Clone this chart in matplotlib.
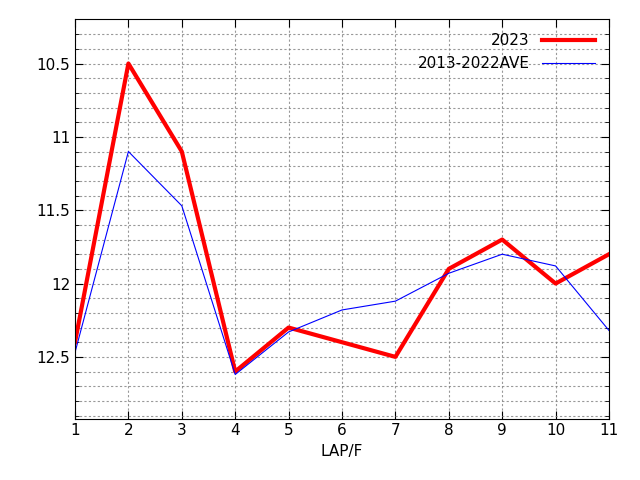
import matplotlib
matplotlib.use("Agg")
import matplotlib.pyplot as plt
import numpy as np

laps = list(range(1, 12))
y2023 = [12.4, 10.5, 11.1, 12.6, 12.3, 12.4, 12.5, 11.9, 11.7, 12.0, 11.8]
yave = [12.47, 11.1, 11.47, 12.62, 12.33, 12.18, 12.12, 11.93, 11.80, 11.88, 12.32]

fig = plt.figure(figsize=(6.4, 4.8), dpi=100)
ax = fig.add_axes([75/640, 1-418.5/480, (609-75)/640, (418.5-19.5)/480])
ax.plot(laps, y2023, color="red", lw=3, label="2023")
ax.plot(laps, yave, color="blue", lw=0.8, label="2013-2022AVE")
ax.set_xlim(1, 11)
ax.set_ylim(12.92, 10.2)
ax.set_xticks(laps)
ax.set_yticks([10.5, 11, 11.5, 12, 12.5])
ax.set_yticklabels(["10.5", "11", "11.5", "12", "12.5"])
ax.set_yticks(np.arange(10.3, 12.95, 0.1), minor=True)
ax.grid(True, which="both", color="gray", ls=(0, (2, 2)), lw=0.8, alpha=0.8)
ax.tick_params(which="both", direction="in", top=True, right=True, labelsize=11)
ax.tick_params(which="major", length=6)
ax.tick_params(which="minor", length=3)
ax.set_xlabel("LAP/F", fontsize=11)
leg = ax.legend(loc="upper right", frameon=False, fontsize=11, handlelength=3.5, markerfirst=False)
fig.savefig("out.png")
